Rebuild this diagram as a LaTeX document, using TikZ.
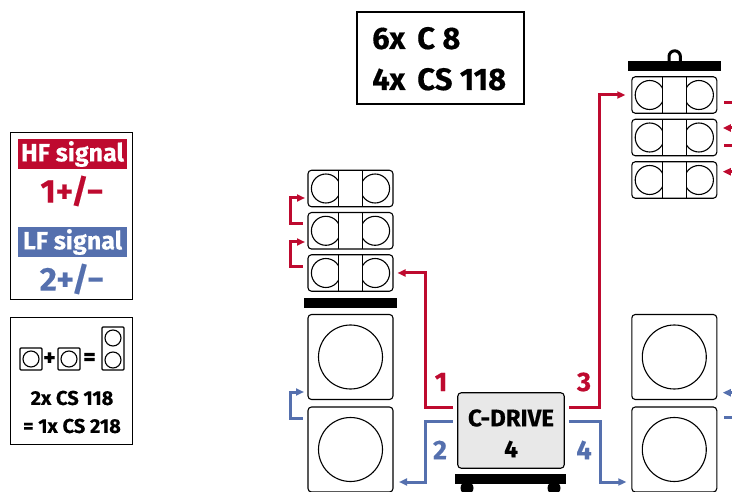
\documentclass[tikz,border=0pt]{standalone}
\usepackage{fontspec}
\setmainfont{Fira Sans}[BoldFeatures={FakeBold=0.4}]
\usetikzlibrary{arrows.meta,calc}
\definecolor{hfred}{HTML}{BE0A2F}
\definecolor{lfblue}{HTML}{5570AE}
\definecolor{drivegrey}{HTML}{E8E8E8}
\tikzset{
  ln/.style={draw=black,line width=1.1pt,inner sep=0pt,outer sep=0pt},
  framebox/.style={ln,line width=1.2pt},
  cabinet/.style={ln,rounded corners=3.5pt,minimum width=85pt},
  cone/.style={ln,circle,fill=white},
  bar/.style={fill=black,inner sep=0pt,outer sep=0pt},
  hf/.style={hfs,-{Triangle[length=8pt,width=7pt]}},
  lf/.style={lfs,-{Triangle[length=8pt,width=7pt]}},
  hfs/.style={draw=hfred,line width=3pt},
  lfs/.style={draw=lfblue,line width=3pt},
  lab/.style={font=\bfseries\fontsize{27}{27}\selectfont,inner sep=0pt},
  smalltxt/.style={font=\bfseries\fontsize{20}{20}\selectfont,inner sep=0pt},
}
\newcommand{\twoway}[3]{% name, cx, cy
  \node[cone,minimum size=29pt] (#1l) at (#2-24.6,#3) {};
  \node[cone,minimum size=29pt] (#1r) at (#2+24.6,#3) {};
  \fill[white] (#2-12,#3-18) rectangle (#2+12,#3+18);
  \draw[line width=1.1pt] (#2-12,#3-18) -- (#2-12,#3+18) (#2+12,#3-18) -- (#2+12,#3+18);
  \node[cabinet,minimum height=36.5pt] (#1) at (#2,#3) {};
}
\newcommand{\bigcab}[3]{%
  \node[cabinet,minimum height=85pt] (#1) at (#2,#3) {};
  \node[cone,minimum size=64pt] (#1c) at (#2,#3) {};
}
\begin{document}
\begin{tikzpicture}[x=1pt,y=-1pt]
\useasboundingbox (0,0) rectangle (732,492);
% quantity box
\node[framebox,minimum width=167pt,minimum height=92pt] (qty) at (440.5,58) {};
\node[anchor=base west,inner sep=0pt,font=\bfseries\fontsize{31}{31}\selectfont] (q1) at (372,49) {6x\hspace{12pt}C 8};
\node[anchor=base west,inner sep=0pt,font=\bfseries\fontsize{31}{31}\selectfont] (q2) at (372,90) {4x\hspace{12pt}CS 118};
% legend
\node[framebox,minimum width=122.5pt,minimum height=167pt] (legend) at (71.5,216) {};
\node[bar,fill=hfred,minimum width=109pt,minimum height=30pt,text=white,font=\bfseries\fontsize{25}{25}\selectfont] (hfl) at (72.5,154) {HF signal};
\node[inner sep=0pt,text=hfred,font=\bfseries\fontsize{33}{33}\selectfont] (hfv) at (72,191) {1+/−};
\node[bar,fill=lfblue,minimum width=109pt,minimum height=30pt,text=white,font=\bfseries\fontsize{25}{25}\selectfont] (lfl) at (72.5,242) {LF signal};
\node[inner sep=0pt,text=lfblue,font=\bfseries\fontsize{33}{33}\selectfont] (lfv) at (72,279) {2+/−};
% pairing box
\node[framebox,minimum width=122.5pt,minimum height=127.5pt] (pair) at (71.5,381) {};
\node[ln,minimum size=22pt,rounded corners=1pt] (s1) at (31,359) {};
\node[ln,circle,minimum size=16pt] (s1c) at (31,359) {};
\node[ln,minimum size=22pt,rounded corners=1pt] (s2) at (69,359) {};
\node[ln,circle,minimum size=16pt] (s2c) at (69,359) {};
\node[ln,minimum width=22pt,minimum height=43pt,rounded corners=1pt] (s3) at (113,348.5) {};
\node[ln,circle,minimum size=16pt] (s3a) at (113,338) {};
\node[ln,circle,minimum size=16pt] (s3b) at (113,360) {};
\node[inner sep=0pt,font=\bfseries\fontsize{24}{24}\selectfont] (plus) at (49.5,359) {+};
\node[inner sep=0pt,font=\bfseries\fontsize{24}{24}\selectfont] (eq) at (89.5,359) {=};
\node[smalltxt] (t1) at (72,398) {2x CS 118};
\node[smalltxt] (t2) at (72,426) {= 1x CS 218};
% left stack
\twoway{la}{350.5}{188.5}
\twoway{lb}{350.5}{230.8}
\twoway{lc}{350.5}{273}
\node[bar,minimum width=93pt,minimum height=10pt] (lbar) at (350.5,303) {};
\bigcab{lu}{350.5}{357}
\bigcab{ld}{350.5}{449.5}
% right stack
\twoway{ra}{674.3}{95}
\twoway{rb}{674.3}{137.5}
\twoway{rc}{674.3}{180}
\node[bar,minimum width=93pt,minimum height=10pt] (rbar) at (674.5,66) {};
\draw[line width=3pt] (669,61) -- (669,56.5) arc[start angle=180,end angle=360,radius=5.7] -- (680.4,61);
\bigcab{ru}{674.3}{357}
\bigcab{rd}{674.3}{449.5}
% drive
\node[ln,fill=drivegrey,rounded corners=3.5pt,minimum width=106.5pt,minimum height=75.5pt] (drive) at (511,430.5) {};
\node[font=\bfseries\fontsize{24}{24}\selectfont,inner sep=0pt] (dn1) at (511,418) {C-DRIVE};
\node[font=\bfseries\fontsize{24}{24}\selectfont,inner sep=0pt] (dn2) at (511,449) {4};
\node[bar,minimum width=111pt,minimum height=10pt] (dbar) at (510.5,479) {};
\fill (467,488) circle (6.5) (554,488) circle (6.5);
% connectors from the drive
\coordinate (c1) at (425.7,300);
\coordinate (c2) at (425.7,450);
\coordinate (c3) at (599.5,300);
\coordinate (c4) at (600,450);
\draw[hf] ([shift={(-4.7,-23.5)}]drive.west) -| (c1) |- ([xshift=4.5]lc.east);
\draw[lf] ([shift={(-4.7,-9.5)}]drive.west) -| (c2) |- ([shift={(6,32.5)}]ld.east);
\draw[hf] ([shift={(4.7,-23.5)}]drive.east) -| (c3) |- ([xshift=-6.5]ra.west);
\draw[lf] ([shift={(4.7,-9.5)}]drive.east) -| (c4) |- ([shift={(-5.5,32.5)}]rd.west);
\node[lab,text=hfred] (n1) at (441,382) {1};
\node[lab,text=lfblue] (n2) at (440,450) {2};
\node[lab,text=hfred] (n3) at (584,382) {3};
\node[lab,text=lfblue] (n4) at (584,450) {4};
% left bridges
\draw[hf] ([shift={(-5.3,-6.8)}]lb.west) -- ++(-12.7,0) |- ([shift={(-3,9.5)}]la.west);
\draw[hf] ([shift={(-5.3,-6)}]lc.west) -- ++(-12.7,0) |- ([shift={(-3,11.2)}]lb.west);
\draw[lf] ([shift={(-5.3,-31.5)}]ld.west) -- ++(-12.7,0) |- ([shift={(-4,35)}]lu.west);
% right bridges running off the page
\coordinate (e1) at (733,102.7);
\coordinate (e2) at (733,128);
\coordinate (e3) at (733,146);
\coordinate (e4) at (733,171.7);
\coordinate (e5) at (733,392.7);
\coordinate (e6) at (733,417.7);
\draw[hfs] ([shift={(7.2,7.7)}]ra.east) -- (e1);
\draw[hf] (e2) -- ([shift={(6,-9.5)}]rb.east);
\draw[hfs] ([shift={(7.2,8.5)}]rb.east) -- (e3);
\draw[hf] (e4) -- ([shift={(6,-8.3)}]rc.east);
\draw[lf] (e5) -- ([shift={(6,35.7)}]ru.east);
\draw[lfs] ([shift={(7.2,-31.8)}]rd.east) -- (e6);
\end{tikzpicture}
\end{document}
